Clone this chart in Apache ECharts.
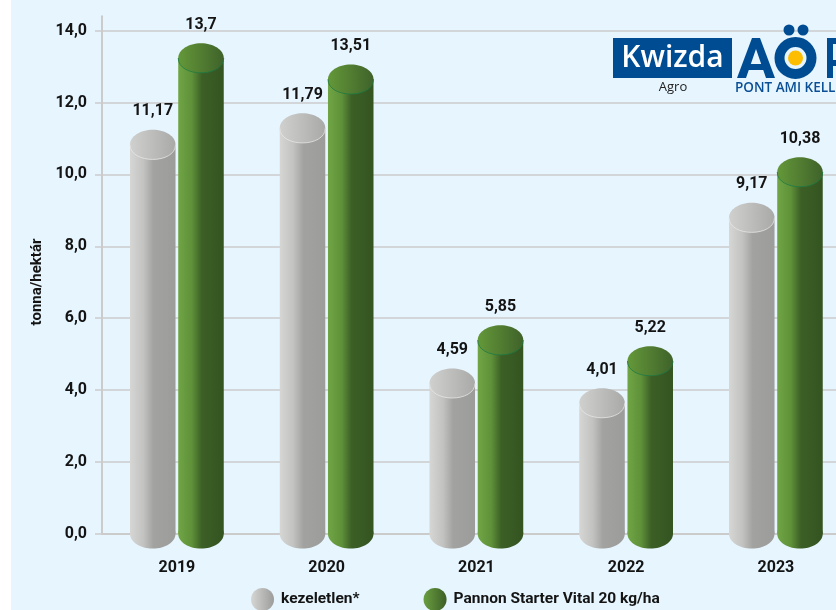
<!DOCTYPE html>
<html><head><meta charset="utf-8">
<style>html,body{margin:0;padding:0;background:#fff;overflow:hidden}#c{width:836px;height:610px}</style>
<script src="https://cdn.jsdelivr.net/npm/echarts@6/dist/echarts.min.js"></script>
</head><body><div id="c"></div>
<script>
const categories = ['2019','2020','2021','2022','2023'];
const yTicks = [0,2,4,6,8,10,12,14];
const seriesNames = ['kezeletlen*','Pannon Starter Vital 20 kg/ha'];
// printed value labels
const labelsKezeletlen = ['11,17','11,79','4,59','4,01','9,17'];
const labelsPannon = ['13,7','13,51','5,85','5,22','10,38'];
// column heights as drawn in the picture (tonna/hektár)
const heightsKezeletlen = [11.24,11.70,4.60,4.05,9.21];
const heightsPannon = [13.65,13.06,5.80,5.22,10.48];

const FONT = 'Roboto,"Liberation Sans",sans-serif';
const INK = '#141414';
const grad = (stops) => ({type:'linear',x:0,y:0,x2:1,y2:0,colorStops:stops.map(s=>({offset:s[0],color:s[1]}))});
const styles = [
  {body:grad([[0,'#d6d6d5'],[0.3,'#c2c2c1'],[0.52,'#a2a2a0'],[1,'#9c9c9a']]),
   top:grad([[0,'#d0d0cf'],[1,'#a9a9a8']]), rim:'#e6e6e6', legend:grad([[0,'#d6d6d5'],[1,'#9c9c9a']])},
  {body:grad([[0,'#70a545'],[0.3,'#5f9139'],[0.52,'#3c5f26'],[1,'#345420']]),
   top:grad([[0,'#649839'],[1,'#3f622a']]), rim:'#1d7a45', legend:grad([[0,'#6a9f40'],[1,'#3c5f26']])}
];
function cyl(idx, labels){
  return function(params, api){
    const i = api.value(0), v = api.value(1);
    const base = api.coord([i,0]), topP = api.coord([i,v]);
    const band = api.size([1,0])[0];
    const w = band*0.304, rx = w/2, ry = w*0.325;
    const cx = base[0] + (idx===0?-1:1)*band*0.161;
    const cyTop = topP[1]+ry, cyBase = base[1];
    const st = styles[idx];
    return {type:'group',children:[
      {type:'ellipse',shape:{cx:cx,cy:cyBase,rx:rx,ry:ry},style:{fill:st.body}},
      {type:'rect',shape:{x:cx-rx,y:cyTop,width:w,height:cyBase-cyTop},style:{fill:st.body}},
      {type:'ellipse',shape:{cx:cx,cy:cyTop,rx:rx,ry:ry},style:{fill:st.top}},
      {type:'bezierCurve',shape:{x1:cx-rx,y1:cyTop,x2:cx+rx,y2:cyTop,cpx1:cx-rx,cpy1:cyTop+ry*4/3,cpx2:cx+rx,cpy2:cyTop+ry*4/3},
        style:{fill:null,stroke:st.rim,lineWidth:0.8}},
      {type:'text',style:{text:labels[i],x:cx,y:topP[1]-18.5,align:'center',verticalAlign:'middle',
        font:'700 16px '+FONT,fill:INK}}
    ]};
  };
}
const chart = echarts.init(document.getElementById('c'),null,{renderer:'canvas'});
const blue='#004c93';
const Z=20;
chart.setOption({
  animation:false,
  backgroundColor:'#fff',
  grid:{left:102,top:16.3,width:748.75,height:517.4,containLabel:false,outerBoundsMode:'none'},
  graphic:[
    {type:'rect',z:-10,silent:true,shape:{x:11,y:0,width:825,height:610},style:{fill:'#e6f5fe'}},
    {type:'rect',z:Z,silent:true,shape:{x:613,y:38,width:119,height:40},style:{fill:blue}},
    {type:'text',z:Z,silent:true,style:{text:'Kwizda',x:672.5,y:58,align:'center',verticalAlign:'middle',font:'600 30px "Open Sans",sans-serif',fill:'#fff'}},
    {type:'text',z:Z,silent:true,style:{text:'Agro',x:673,y:87,align:'center',verticalAlign:'middle',font:'13px "Open Sans",sans-serif',fill:'#222'}},
    {type:'polygon',z:Z,silent:true,shape:{points:[[737,78],[752,38],[760,38],[775,78],[766,78],[756,49],[746,78]]},style:{fill:blue}},
    {type:'rect',z:Z,silent:true,shape:{x:745,y:64,width:22,height:6},style:{fill:blue}},
    {type:'circle',z:Z,silent:true,shape:{cx:795.5,cy:58,r:16},style:{fill:'#e6f5fe',stroke:blue,lineWidth:10}},
    {type:'circle',z:Z,silent:true,shape:{cx:795.5,cy:58,r:7.5},style:{fill:'#fdbd00'}},
    {type:'circle',z:Z,silent:true,shape:{cx:789,cy:30,r:5.5},style:{fill:blue}},
    {type:'circle',z:Z,silent:true,shape:{cx:803,cy:30,r:5.5},style:{fill:blue}},
    {type:'rect',z:Z,silent:true,shape:{x:827,y:38,width:6,height:40},style:{fill:blue}},
    {type:'rect',z:Z,silent:true,shape:{x:827,y:38,width:9,height:6},style:{fill:blue}},
    {type:'rect',z:Z,silent:true,shape:{x:827,y:60,width:9,height:6},style:{fill:blue}},
    {type:'text',z:Z,silent:true,style:{text:'PONT AMI KELL',x:735,y:88.5,align:'left',verticalAlign:'middle',font:'600 13.5px "Open Sans",sans-serif',fill:'#0a4f96'}}
  ],
  legend:{left:251,top:588,itemWidth:23,itemHeight:23,itemGap:64,icon:'circle',padding:0,
    selectedMode:false,data:seriesNames,
    textStyle:{fontFamily:FONT,fontWeight:700,fontSize:15.5,color:INK,padding:[-6,0,0,2]}},
  xAxis:{type:'category',data:categories,boundaryGap:true,
    axisLine:{show:true,lineStyle:{color:'#cbcbcb',width:2}},axisTick:{show:false},
    axisLabel:{margin:26,fontFamily:FONT,fontWeight:700,fontSize:16,color:INK}},
  yAxis:{type:'value',min:0,max:14.4,interval:2,
    name:'tonna/hektár',nameLocation:'middle',nameGap:45,nameRotate:90,
    nameTextStyle:{fontFamily:FONT,fontWeight:700,fontSize:15,color:INK,padding:[0,14,0,0]},
    axisLine:{show:true,onZero:false,lineStyle:{color:'#cbcbcb',width:2}},
    axisTick:{show:true,length:7,lineStyle:{color:'#cbcbcb',width:1.5},customValues:yTicks},
    splitLine:{show:true,lineStyle:{color:'#cbcbcb',width:1.5}},
    axisLabel:{customValues:yTicks,margin:15,fontFamily:FONT,fontWeight:700,fontSize:16,color:INK,
      formatter:v=>v.toFixed(1).replace('.',',')}},
  series:[
    {name:seriesNames[0],type:'custom',renderItem:cyl(0,labelsKezeletlen),clip:false,
     itemStyle:{color:styles[0].legend},encode:{x:0,y:1},
     data:heightsKezeletlen.map((v,i)=>[i,v])},
    {name:seriesNames[1],type:'custom',renderItem:cyl(1,labelsPannon),clip:false,
     itemStyle:{color:styles[1].legend},encode:{x:0,y:1},
     data:heightsPannon.map((v,i)=>[i,v])}
  ]
});
</script></body></html>
